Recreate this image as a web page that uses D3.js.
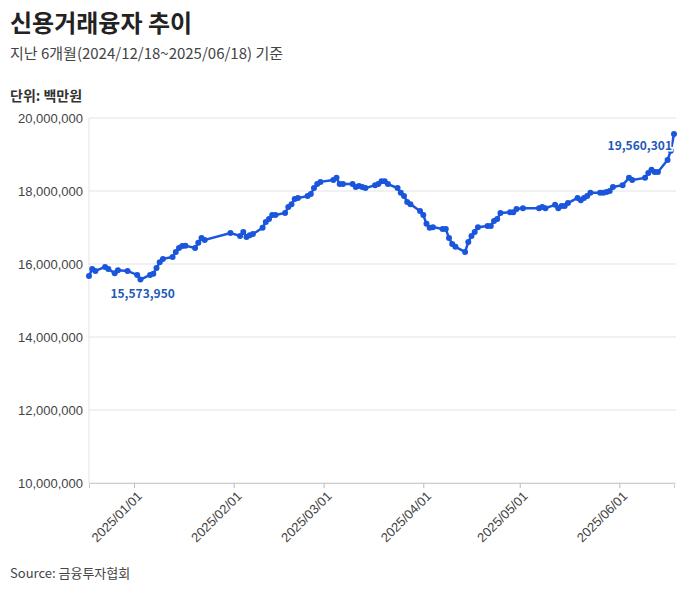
<!DOCTYPE html>
<html><head><meta charset="utf-8">
<script src="https://cdn.jsdelivr.net/npm/d3@7"></script>
<style>
body{margin:0;background:#fff;font-family:"Noto Sans CJK KR","Noto Sans",sans-serif;}
</style></head><body>
<svg id="chart" width="700" height="590"></svg>
<script>
const dates = ["2024-12-18","2024-12-19","2024-12-20","2024-12-23","2024-12-24","2024-12-26","2024-12-27","2024-12-30",
"2025-01-02","2025-01-03","2025-01-06","2025-01-07","2025-01-08","2025-01-09","2025-01-10","2025-01-13","2025-01-14","2025-01-15","2025-01-16","2025-01-17","2025-01-20","2025-01-21","2025-01-22","2025-01-23",
"2025-01-31","2025-02-03","2025-02-04","2025-02-05","2025-02-06","2025-02-07","2025-02-10","2025-02-11","2025-02-12","2025-02-13","2025-02-14","2025-02-17","2025-02-18","2025-02-19","2025-02-20","2025-02-21","2025-02-24","2025-02-25","2025-02-26","2025-02-27","2025-02-28",
"2025-03-04","2025-03-05","2025-03-06","2025-03-07","2025-03-10","2025-03-11","2025-03-12","2025-03-13","2025-03-14","2025-03-17","2025-03-18","2025-03-19","2025-03-20","2025-03-21","2025-03-24","2025-03-25","2025-03-26","2025-03-27","2025-03-28","2025-03-31",
"2025-04-01","2025-04-02","2025-04-03","2025-04-04","2025-04-07","2025-04-08","2025-04-09","2025-04-10","2025-04-11","2025-04-14","2025-04-15","2025-04-16","2025-04-17","2025-04-18","2025-04-21","2025-04-22","2025-04-23","2025-04-24","2025-04-25","2025-04-28","2025-04-29","2025-04-30",
"2025-05-02","2025-05-07","2025-05-08","2025-05-09","2025-05-12","2025-05-13","2025-05-14","2025-05-15","2025-05-16","2025-05-19","2025-05-20","2025-05-21","2025-05-22","2025-05-23","2025-05-26","2025-05-27","2025-05-28","2025-05-29","2025-05-30",
"2025-06-02","2025-06-04","2025-06-05","2025-06-09","2025-06-10","2025-06-11","2025-06-12","2025-06-13","2025-06-16","2025-06-17","2025-06-18"];
const values = [15.67,15.86,15.81,15.92,15.86,15.75,15.83,15.81,
15.70,15.573950,15.70,15.73,15.89,16.05,16.14,16.19,16.33,16.44,16.49,16.50,16.44,16.58,16.71,16.66,
16.85,16.77,16.88,16.74,16.79,16.82,16.99,17.15,17.23,17.34,17.34,17.40,17.56,17.64,17.78,17.81,17.86,17.92,18.08,18.19,18.25,
18.30,18.36,18.19,18.19,18.19,18.11,18.14,18.11,18.08,18.16,18.19,18.27,18.27,18.19,18.08,17.95,17.86,17.70,17.64,17.45,
17.34,17.10,16.99,17.01,16.96,16.96,16.71,16.55,16.47,16.33,16.60,16.77,16.88,17.01,17.04,17.04,17.18,17.23,17.40,17.42,17.42,17.51,
17.53,17.53,17.56,17.53,17.62,17.53,17.59,17.59,17.67,17.81,17.75,17.81,17.86,17.95,17.95,17.95,17.97,18.00,18.11,
18.16,18.36,18.30,18.36,18.49,18.58,18.52,18.52,18.85,19.10,19.560301].map(v => v * 1e6);
const yTicks = [10e6, 12e6, 14e6, 16e6, 18e6, 20e6];
const xTicks = ["2025-01-01","2025-02-01","2025-03-01","2025-04-01","2025-05-01","2025-06-01"];

const parse = d3.timeParse("%Y-%m-%d");
const data = dates.map((d, i) => ({date: parse(d), value: values[i]}));

const svg = d3.select("#chart");
const m = {left: 89, right: 676, top: 118, bottom: 483};
const x = d3.scaleTime().domain(d3.extent(data, d => d.date)).range([m.left, m.right - 2]);
const y = d3.scaleLinear().domain([10e6, 20e6]).range([m.bottom, m.top]);
const blue = "#1a56db";

svg.append("text").attr("x", 10).attr("y", 32).attr("font-size", 24).attr("font-weight", 700).attr("fill", "#222").text("신용거래융자 추이");
svg.append("text").attr("x", 10).attr("y", 59).attr("font-size", 15).attr("fill", "#444").text("지난 6개월(2024/12/18~2025/06/18) 기준");
svg.append("text").attr("x", 10).attr("y", 101).attr("font-size", 14).attr("font-weight", 700).attr("fill", "#333").text("단위: 백만원");
svg.append("text").attr("x", 10).attr("y", 578).attr("font-size", 13).attr("fill", "#444").text("Source: 금융투자협회");

// grid
svg.append("g").selectAll("line").data(yTicks).join("line")
  .attr("x1", m.left).attr("x2", m.right).attr("y1", d => y(d)).attr("y2", d => y(d))
  .attr("stroke", "#e3e3e3");
svg.append("line").attr("x1", m.left).attr("x2", m.left).attr("y1", m.top).attr("y2", m.bottom).attr("stroke", "#e3e3e3");

const yAxis = svg.append("g").attr("transform", `translate(${m.left},0)`)
  .call(d3.axisLeft(y).tickValues(yTicks).tickSize(0).tickPadding(6).tickFormat(d3.format(",")));
yAxis.select(".domain").remove();
yAxis.selectAll("text").attr("font-size", 13).attr("fill", "#444").attr("font-family", "inherit");

const xAxis = svg.append("g").attr("transform", `translate(0,${m.bottom})`)
  .call(d3.axisBottom(x).tickValues(xTicks.map(parse)).tickSize(5).tickFormat(d3.timeFormat("%Y/%m/%d")));
xAxis.select(".domain").attr("stroke", "#ccc");
xAxis.selectAll(".tick line").attr("stroke", "#bbb");
xAxis.selectAll("text").attr("font-size", 13).attr("fill", "#444").attr("font-family", "inherit")
  .attr("text-anchor", "end").attr("dx", "-0.3em").attr("dy", "0.6em").attr("transform", "rotate(-45)");

svg.append("path").datum(data)
  .attr("fill", "none").attr("stroke", blue).attr("stroke-width", 2.5)
  .attr("d", d3.line().x(d => x(d.date)).y(d => y(d.value)));
svg.append("g").selectAll("circle").data(data).join("circle")
  .attr("cx", d => x(d.date)).attr("cy", d => y(d.value)).attr("r", 3).attr("fill", blue);

const minD = data.reduce((a, b) => b.value < a.value ? b : a);
const maxD = data[data.length - 1];
svg.append("text").attr("x", x(minD.date) - 30).attr("y", y(minD.value) + 18)
  .attr("font-size", 12).attr("font-weight", 600).attr("fill", "#1f5bb5").text(d3.format(",")(minD.value));
svg.append("text").attr("x", x(maxD.date) - 2).attr("y", y(maxD.value) + 16).attr("text-anchor", "end")
  .attr("font-size", 12).attr("font-weight", 600).attr("fill", "#1f5bb5")
  .attr("stroke", "#fff").attr("stroke-width", 3).attr("paint-order", "stroke").text(d3.format(",")(maxD.value));
</script></body></html>
